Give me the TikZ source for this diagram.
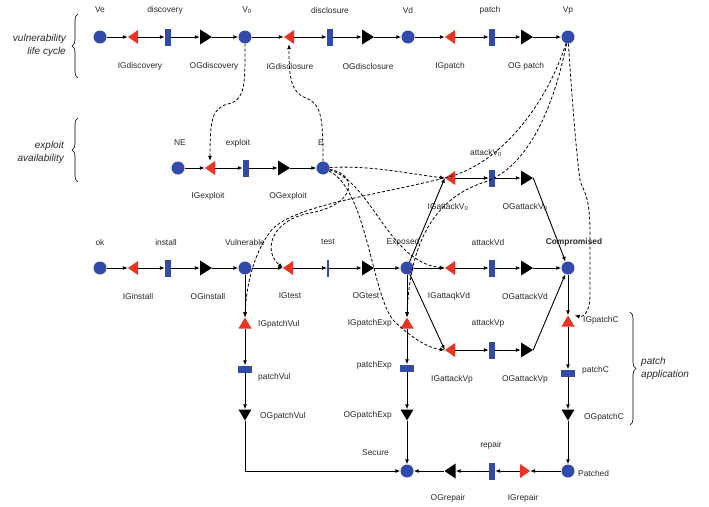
\documentclass[tikz,border=0pt]{standalone}
\usepackage{fontspec}
\setmainfont{Liberation Sans}
\usetikzlibrary{arrows.meta,decorations.pathreplacing}
\definecolor{pblue}{RGB}{50,75,170}
\definecolor{tred}{RGB}{235,50,35}
\definecolor{txt}{RGB}{40,40,40}
\begin{document}
\begin{tikzpicture}[x=1pt,y=-1pt,
  lbl/.style={font=\fontsize{8.4}{10}\selectfont,inner sep=0pt,text=txt},
  brlbl/.style={font=\fontsize{10}{13}\selectfont\itshape,inner sep=0pt,text=txt},
  place/.style={circle,fill=pblue,minimum size=13pt,inner sep=0pt},
  vbar/.style={rectangle,fill=pblue,minimum width=6pt,minimum height=17pt,inner sep=0pt},
  thinbar/.style={rectangle,fill=pblue,minimum width=1.5pt,minimum height=17pt,inner sep=0pt},
  hbar/.style={rectangle,fill=pblue,minimum width=14pt,minimum height=7pt,inner sep=0pt},
  tril/.style={rectangle,inner sep=0pt,minimum width=10pt,minimum height=14pt,
    path picture={\fill[#1] (path picture bounding box.north east) -- (path picture bounding box.south east) -- (path picture bounding box.west) -- cycle;}},
  trir/.style={rectangle,inner sep=0pt,minimum width=12pt,minimum height=15pt,
    path picture={\fill[#1] (path picture bounding box.north west) -- (path picture bounding box.south west) -- (path picture bounding box.east) -- cycle;}},
  triu/.style={rectangle,inner sep=0pt,minimum width=13pt,minimum height=11pt,
    path picture={\fill[#1] (path picture bounding box.south west) -- (path picture bounding box.south east) -- (path picture bounding box.north) -- cycle;}},
  trid/.style={rectangle,inner sep=0pt,minimum width=13pt,minimum height=11pt,
    path picture={\fill[#1] (path picture bounding box.north west) -- (path picture bounding box.north east) -- (path picture bounding box.south) -- cycle;}},
  flow/.style={line width=0.9pt,-{Latex[length=5pt,width=4pt]}},
  guard/.style={line width=0.8pt,dash pattern=on 3pt off 2pt,-{Latex[length=5pt,width=4pt]}},
  brc/.style={decorate,decoration={brace,amplitude=6pt},line width=0.6pt}
]
\useasboundingbox (0,0) rectangle (709,506);

% ---------- row 1: vulnerability life cycle
\node[place] (Ve) at (100,37) {};
\node[tril=tred] (IGdiscovery) at (133,37) {};
\node[vbar] (discovery) at (168,37) {};
\node[trir=black] (OGdiscovery) at (206,37) {};
\node[place] (V0) at (245,37) {};
\node[tril=tred] (IGdisclosure) at (289,37) {};
\node[vbar] (disclosure) at (330,37) {};
\node[trir=black] (OGdisclosure) at (368,37) {};
\node[place] (Vd) at (408,37) {};
\node[tril=tred] (IGpatch) at (450,37) {};
\node[vbar] (patch) at (492,37) {};
\node[trir=black] (OGpatch) at (527,37) {};
\node[place] (Vp) at (568,37) {};

% ---------- row 2: exploit
\node[place] (NE) at (178,168) {};
\node[tril=tred] (IGexploit) at (210,168) {};
\node[vbar] (exploit) at (246,168) {};
\node[trir=black] (OGexploit) at (284,168) {};
\node[place] (E) at (323,168) {};

% ---------- attack V0
\node[tril=tred] (IGattackV0) at (450,178) {};
\node[vbar] (attackV0) at (492,178) {};
\node[trir=black] (OGattackV0) at (527,178) {};

% ---------- row 3
\node[place] (ok) at (100,268) {};
\node[tril=tred] (IGinstall) at (133,268) {};
\node[vbar] (install) at (168,268) {};
\node[trir=black] (OGinstall) at (206,268) {};
\node[place] (Vulnerable) at (245,268) {};
\node[tril=tred] (IGtest) at (288,268) {};
\node[thinbar] (test) at (328,268) {};
\node[trir=black] (OGtest) at (368,268) {};
\node[place] (Exposed) at (407,268) {};
\node[tril=tred] (IGattaqkVd) at (450,268) {};
\node[vbar] (attackVd) at (492,268) {};
\node[trir=black] (OGattackVd) at (527,268) {};
\node[place] (Compromised) at (568,268) {};

% ---------- attack Vp
\node[tril=tred] (IGattackVp) at (450,350) {};
\node[vbar] (attackVp) at (492,350) {};
\node[trir=black] (OGattackVp) at (527,350) {};

% ---------- columns
\node[triu=tred] (IGpatchVul) at (245,323) {};
\node[hbar] (patchVul) at (245,369) {};
\node[trid=black] (OGpatchVul) at (245,415) {};
\node[triu=tred] (IGpatchExp) at (407,323) {};
\node[hbar] (patchExp) at (407,368) {};
\node[trid=black] (OGpatchExp) at (407,415) {};
\node[triu=tred] (IGpatchC) at (568,321) {};
\node[hbar] (patchC) at (568,373) {};
\node[trid=black] (OGpatchC) at (568,415) {};

% ---------- bottom
\node[place] (Secure) at (407,471) {};
\node[tril=black,minimum width=11pt,minimum height=15pt] (OGrepair) at (450,471) {};
\node[vbar] (repair) at (492,471) {};
\node[trir=tred,minimum width=10pt,minimum height=14pt] (IGrepair) at (525,471) {};
\node[place] (Patched) at (568,471) {};

% ---------- labels
\node[lbl] (lVe) at (100,10) {Ve};
\node[lbl] (ldiscovery) at (165,10) {discovery};
\node[lbl] (lV0) at (247,10) {V\textsubscript{0}};
\node[lbl] (ldisclosure) at (330,10) {disclosure};
\node[lbl] (lVd) at (408,10) {Vd};
\node[lbl] (lpatch) at (490,10) {patch};
\node[lbl] (lVp) at (568,10) {Vp};
\node[lbl] (lIGdiscovery) at (140,66) {IGdiscovery};
\node[lbl] (lOGdiscovery) at (214,66) {OGdiscovery};
\node[lbl] (lIGdisclosure) at (290,66) {IGdisclosure};
\node[lbl] (lOGdisclosure) at (368,66) {OGdisclosure};
\node[lbl] (lIGpatch) at (450,66) {IGpatch};
\node[lbl] (lOGpatch) at (526,66) {OG patch};

\node[lbl] (lNE) at (180,143) {NE};
\node[lbl] (lexploit) at (238,143) {exploit};
\node[lbl] (lE) at (321,143) {E};
\node[lbl] (lIGexploit) at (208,196) {IGexploit};
\node[lbl] (lOGexploit) at (288,196) {OGexploit};

\node[lbl] (lattackV0) at (486,153) {attackV\textsubscript{0}};
\node[lbl] (lIGattackV0) at (448,207) {IGattackV\textsubscript{0}};
\node[lbl] (lOGattackV0) at (525,207) {OGattackV\textsubscript{0}};

\node[lbl] (lok) at (100,242) {ok};
\node[lbl] (linstall) at (166,242) {install};
\node[lbl] (lVulnerable) at (245,242) {Vulnerable};
\node[lbl] (ltest) at (328,242) {test};
\node[lbl] (lExposed) at (403,242) {Exposed};
\node[lbl] (lattackVd) at (488,242) {attackVd};
\node[lbl,font=\fontsize{8.4}{10}\selectfont\bfseries] (lCompromised) at (574,242) {Compromised};
\node[lbl] (lIGinstall) at (138,296) {IGinstall};
\node[lbl] (lOGinstall) at (208,296) {OGinstall};
\node[lbl] (lIGtest) at (290,296) {IGtest};
\node[lbl] (lOGtest) at (366,296) {OGtest};
\node[lbl] (lIGattaqkVd) at (449,296) {IGattaqkVd};
\node[lbl] (lOGattackVd) at (525,296) {OGattackVd};

\node[lbl] (lattackVp) at (488,323) {attackVp};
\node[lbl] (lIGattackVp) at (452,379) {IGattackVp};
\node[lbl] (lOGattackVp) at (525,379) {OGattackVp};

\node[lbl,anchor=west] (lIGpatchVul) at (258,324) {IGpatchVul};
\node[lbl,anchor=west] (lpatchVul) at (258,377) {patchVul};
\node[lbl,anchor=west] (lOGpatchVul) at (260,416) {OGpatchVul};
\node[lbl,anchor=east] (lIGpatchExp) at (392,323) {IGpatchExp};
\node[lbl,anchor=east] (lpatchExp) at (392,365) {patchExp};
\node[lbl,anchor=east] (lOGpatchExp) at (392,415) {OGpatchExp};
\node[lbl,anchor=east] (lSecure) at (389,453) {Secure};
\node[lbl,anchor=west] (lIGpatchC) at (583,320) {IGpatchC};
\node[lbl,anchor=west] (lpatchC) at (582,370) {patchC};
\node[lbl,anchor=west] (lOGpatchC) at (584,417) {OGpatchC};
\node[lbl,anchor=west] (lPatched) at (578,473) {Patched};
\node[lbl] (lrepair) at (491,445) {repair};
\node[lbl] (lOGrepair) at (448,498) {OGrepair};
\node[lbl] (lIGrepair) at (523,498) {IGrepair};

% ---------- braces and group labels
\draw[brc] (78,78) -- (78,14);
\draw[brc] (78,182) -- (78,118);
\draw[brc] (630,312) -- (630,425);
\node[brlbl,align=right,anchor=east] (gvlc) at (66,45) {vulnerability\\life cycle};
\node[brlbl,align=right,anchor=east] (gexp) at (64,152) {exploit\\availability};
\node[brlbl,align=left,anchor=west] (gpatch) at (641,368) {patch\\application};

% ---------- solid arcs
\foreach \a/\b in {Ve/IGdiscovery,IGdiscovery/discovery,discovery/OGdiscovery,OGdiscovery/V0,
  V0/IGdisclosure,IGdisclosure/disclosure,disclosure/OGdisclosure,OGdisclosure/Vd,
  Vd/IGpatch,IGpatch/patch,patch/OGpatch,OGpatch/Vp,
  NE/IGexploit,IGexploit/exploit,exploit/OGexploit,OGexploit/E,
  ok/IGinstall,IGinstall/install,install/OGinstall,OGinstall/Vulnerable,
  Vulnerable/IGtest,IGtest/test,test/OGtest,OGtest/Exposed,
  Exposed/IGattaqkVd,IGattaqkVd/attackVd,attackVd/OGattackVd,OGattackVd/Compromised,
  IGattackV0/attackV0,attackV0/OGattackV0,IGattackVp/attackVp,attackVp/OGattackVp,
  Vulnerable/IGpatchVul,IGpatchVul/patchVul,patchVul/OGpatchVul,
  Exposed/IGpatchExp,IGpatchExp/patchExp,patchExp/OGpatchExp,OGpatchExp/Secure,
  Compromised/IGpatchC,IGpatchC/patchC,patchC/OGpatchC,OGpatchC/Patched,
  Patched/IGrepair,IGrepair/repair,repair/OGrepair,OGrepair/Secure}
  \draw[flow] (\a) -- (\b);
\draw[flow] (Exposed) -- (IGattackV0.west);
\draw[flow] (Exposed) -- (IGattackVp.west);
\draw[flow] (OGattackV0.east) -- (Compromised);
\draw[flow] (OGattackVp.east) -- (Compromised);
\draw[flow] (OGpatchVul) |- (Secure);

% ---------- dashed arcs
\draw[guard] (V0) .. controls (245,82) and (246,100) .. (228,104) .. controls (212,108) and (210,120) .. (IGexploit.north);
\draw[guard] (E) .. controls (323,120) and (322,104) .. (306,98) .. controls (290,92) and (289,75) .. (IGdisclosure.south);
\draw[guard] (E) .. controls (370,165) and (410,174) .. (IGattackV0.west);
\draw[guard] (E) .. controls (360,175) and (355,205) .. (310,213) .. controls (272,220) and (262,250) .. (IGtest.west);
\draw[guard] (E) .. controls (372,182) and (388,262) .. (IGattaqkVd.west);
\draw[guard] (E) .. controls (368,190) and (372,300) .. (395,322) .. controls (412,338) and (428,348) .. (IGattackVp.west);
\draw[guard] (Vp) .. controls (548,100) and (505,160) .. (452,176) .. controls (380,195) and (290,205) .. (270,232) .. controls (252,256) and (246,290) .. (IGpatchVul.north);
\draw[guard] (Vp) .. controls (552,115) and (525,168) .. (485,182) .. controls (440,196) and (410,235) .. (IGpatchExp.north);
\draw[guard] (Vp) .. controls (572,100) and (577,160) .. (580,180) .. controls (582,190) and (590,192) .. (590,232) -- (590,296) .. controls (590,310) and (584,318) .. (IGpatchC.north east);
\end{tikzpicture}
\end{document}
